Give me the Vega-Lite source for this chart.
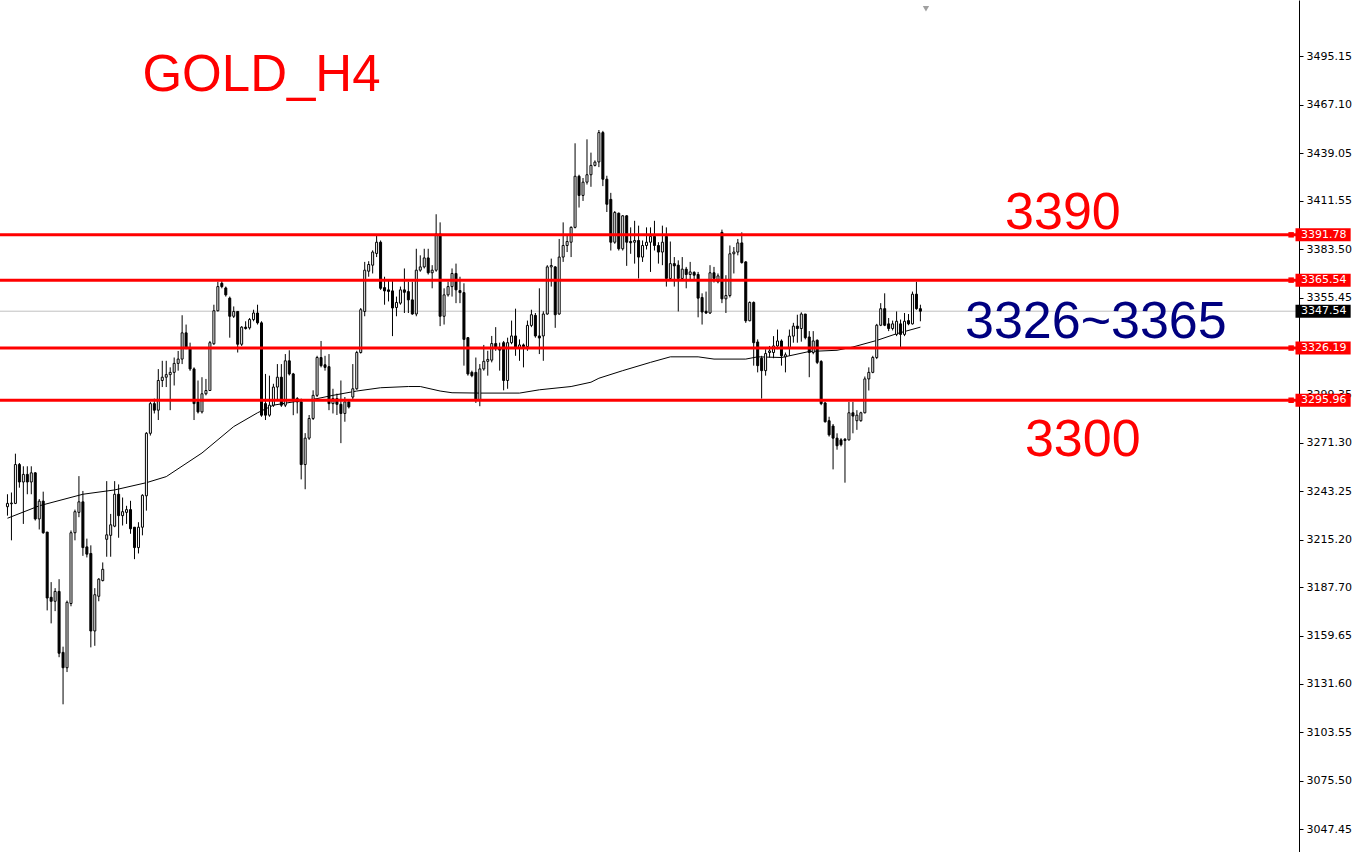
{
  "$schema": "https://vega.github.io/schema/vega-lite/v6.json",
  "width": 1299,
  "height": 852,
  "autosize": {"type": "none"},
  "padding": {"left": 0, "top": 0, "right": 57, "bottom": 0},
  "background": "#FFFFFF",
  "config": {"view": {"stroke": null}},
  "resolve": {"axis": {"y": "independent", "x": "independent"}},
  "datasets": {
    "candles": [
      {"k":0,"o":3234.3,"h":3241.5,"l":3229.1,"c":3236.2},
      {"k":1,"o":3236.0,"h":3242.5,"l":3214.8,"c":3236.4},
      {"k":2,"o":3236.2,"h":3265.0,"l":3235.8,"c":3258.7},
      {"k":3,"o":3258.7,"h":3259.6,"l":3245.3,"c":3248.6},
      {"k":4,"o":3248.6,"h":3257.7,"l":3224.3,"c":3253.0},
      {"k":5,"o":3253.0,"h":3257.7,"l":3241.5,"c":3248.6},
      {"k":6,"o":3248.6,"h":3257.7,"l":3241.5,"c":3253.9},
      {"k":7,"o":3253.9,"h":3254.3,"l":3226.3,"c":3227.2},
      {"k":8,"o":3227.2,"h":3238.7,"l":3221.1,"c":3237.5},
      {"k":9,"o":3237.5,"h":3243.0,"l":3218.6,"c":3219.2},
      {"k":10,"o":3219.6,"h":3219.6,"l":3174.2,"c":3181.4},
      {"k":11,"o":3181.8,"h":3190.6,"l":3166.7,"c":3179.5},
      {"k":12,"o":3179.5,"h":3187.1,"l":3173.8,"c":3185.2},
      {"k":13,"o":3185.2,"h":3192.3,"l":3147.1,"c":3149.4},
      {"k":14,"o":3149.9,"h":3153.2,"l":3119.8,"c":3141.0},
      {"k":15,"o":3141.0,"h":3179.9,"l":3138.5,"c":3178.9},
      {"k":16,"o":3178.2,"h":3220.5,"l":3176.6,"c":3219.2},
      {"k":17,"o":3219.2,"h":3232.6,"l":3214.8,"c":3231.4},
      {"k":18,"o":3231.0,"h":3252.0,"l":3228.2,"c":3237.1},
      {"k":19,"o":3237.1,"h":3243.4,"l":3205.8,"c":3210.6},
      {"k":20,"o":3211.0,"h":3215.8,"l":3204.9,"c":3206.8},
      {"k":21,"o":3207.2,"h":3211.9,"l":3152.8,"c":3162.3},
      {"k":22,"o":3162.3,"h":3187.1,"l":3153.7,"c":3183.3},
      {"k":23,"o":3182.4,"h":3192.9,"l":3179.5,"c":3192.3},
      {"k":24,"o":3191.5,"h":3202.0,"l":3191.0,"c":3198.0},
      {"k":25,"o":3215.4,"h":3249.1,"l":3205.3,"c":3218.0},
      {"k":26,"o":3217.7,"h":3230.1,"l":3205.3,"c":3223.8},
      {"k":27,"o":3223.0,"h":3249.1,"l":3222.4,"c":3241.5},
      {"k":28,"o":3241.5,"h":3247.2,"l":3216.3,"c":3229.1},
      {"k":29,"o":3229.1,"h":3239.6,"l":3223.4,"c":3231.4},
      {"k":30,"o":3231.0,"h":3234.8,"l":3224.3,"c":3232.6},
      {"k":31,"o":3232.6,"h":3237.7,"l":3218.6,"c":3221.5},
      {"k":32,"o":3222.4,"h":3222.4,"l":3203.9,"c":3210.6},
      {"k":33,"o":3210.6,"h":3225.3,"l":3207.2,"c":3222.4},
      {"k":34,"o":3222.4,"h":3241.5,"l":3217.7,"c":3240.9},
      {"k":35,"o":3240.6,"h":3277.5,"l":3232.0,"c":3276.8},
      {"k":36,"o":3276.8,"h":3295.0,"l":3275.5,"c":3294.0},
      {"k":37,"o":3294.0,"h":3296.9,"l":3288.3,"c":3290.2},
      {"k":38,"o":3290.2,"h":3314.0,"l":3284.5,"c":3307.4},
      {"k":39,"o":3307.4,"h":3318.8,"l":3303.6,"c":3309.3},
      {"k":40,"o":3309.3,"h":3318.8,"l":3303.6,"c":3310.8},
      {"k":41,"o":3310.8,"h":3315.0,"l":3290.2,"c":3312.1},
      {"k":42,"o":3312.1,"h":3320.7,"l":3304.5,"c":3317.3},
      {"k":43,"o":3317.3,"h":3324.5,"l":3313.1,"c":3319.8},
      {"k":44,"o":3319.8,"h":3345.2,"l":3316.9,"c":3335.0},
      {"k":45,"o":3335.0,"h":3339.8,"l":3325.5,"c":3326.5},
      {"k":46,"o":3326.5,"h":3329.3,"l":3313.0,"c":3314.1},
      {"k":47,"o":3314.1,"h":3315.0,"l":3284.5,"c":3294.0},
      {"k":48,"o":3295.0,"h":3307.4,"l":3288.3,"c":3289.2},
      {"k":49,"o":3289.2,"h":3309.3,"l":3288.3,"c":3299.7},
      {"k":50,"o":3299.7,"h":3308.3,"l":3298.8,"c":3301.6},
      {"k":51,"o":3301.6,"h":3330.3,"l":3301.3,"c":3329.3},
      {"k":52,"o":3328.7,"h":3351.3,"l":3328.0,"c":3347.8},
      {"k":53,"o":3347.8,"h":3364.6,"l":3347.4,"c":3361.8},
      {"k":54,"o":3363.7,"h":3365.0,"l":3360.8,"c":3361.8},
      {"k":55,"o":3361.0,"h":3361.8,"l":3356.0,"c":3357.0},
      {"k":56,"o":3355.1,"h":3356.0,"l":3332.2,"c":3344.6},
      {"k":57,"o":3344.6,"h":3350.3,"l":3343.6,"c":3347.4},
      {"k":58,"o":3347.4,"h":3347.4,"l":3323.6,"c":3328.4},
      {"k":59,"o":3328.4,"h":3338.9,"l":3327.4,"c":3338.3},
      {"k":60,"o":3338.3,"h":3341.7,"l":3336.9,"c":3337.5},
      {"k":61,"o":3337.9,"h":3343.6,"l":3336.9,"c":3342.7},
      {"k":62,"o":3342.7,"h":3348.4,"l":3341.7,"c":3346.5},
      {"k":63,"o":3346.5,"h":3351.3,"l":3339.8,"c":3340.8},
      {"k":64,"o":3340.8,"h":3341.7,"l":3286.4,"c":3287.3},
      {"k":65,"o":3294.0,"h":3311.2,"l":3284.5,"c":3287.3},
      {"k":66,"o":3287.3,"h":3310.2,"l":3286.4,"c":3293.1},
      {"k":67,"o":3293.1,"h":3305.5,"l":3292.1,"c":3303.6},
      {"k":68,"o":3303.6,"h":3316.9,"l":3295.9,"c":3309.3},
      {"k":69,"o":3309.3,"h":3316.9,"l":3292.1,"c":3293.1},
      {"k":70,"o":3293.1,"h":3322.7,"l":3292.0,"c":3318.8},
      {"k":71,"o":3318.8,"h":3324.9,"l":3310.3,"c":3311.2},
      {"k":72,"o":3311.2,"h":3311.8,"l":3287.3,"c":3295.9},
      {"k":73,"o":3296.9,"h":3297.8,"l":3288.3,"c":3295.0},
      {"k":74,"o":3295.0,"h":3296.9,"l":3250.1,"c":3258.7},
      {"k":75,"o":3258.7,"h":3276.9,"l":3244.4,"c":3274.0},
      {"k":76,"o":3274.0,"h":3287.4,"l":3273.0,"c":3285.4},
      {"k":77,"o":3285.4,"h":3301.7,"l":3284.5,"c":3298.8},
      {"k":78,"o":3298.8,"h":3321.7,"l":3297.8,"c":3320.7},
      {"k":79,"o":3320.7,"h":3330.3,"l":3315.0,"c":3316.0},
      {"k":80,"o":3316.5,"h":3321.7,"l":3313.1,"c":3315.0},
      {"k":81,"o":3315.4,"h":3322.7,"l":3290.2,"c":3294.0},
      {"k":82,"o":3294.0,"h":3302.6,"l":3288.3,"c":3296.9},
      {"k":83,"o":3296.9,"h":3299.8,"l":3287.4,"c":3293.6},
      {"k":84,"o":3293.6,"h":3307.4,"l":3271.1,"c":3288.3},
      {"k":85,"o":3288.3,"h":3297.8,"l":3283.5,"c":3295.0},
      {"k":86,"o":3295.0,"h":3296.3,"l":3291.2,"c":3292.1},
      {"k":87,"o":3297.8,"h":3316.9,"l":3295.9,"c":3302.6},
      {"k":88,"o":3302.6,"h":3324.6,"l":3302.0,"c":3323.6},
      {"k":89,"o":3323.6,"h":3349.4,"l":3323.0,"c":3348.4},
      {"k":90,"o":3347.4,"h":3376.1,"l":3344.6,"c":3371.3},
      {"k":91,"o":3370.7,"h":3376.5,"l":3367.5,"c":3374.6},
      {"k":92,"o":3374.2,"h":3382.8,"l":3369.4,"c":3381.8},
      {"k":93,"o":3381.0,"h":3391.3,"l":3378.9,"c":3387.5},
      {"k":94,"o":3387.5,"h":3388.5,"l":3359.9,"c":3360.8},
      {"k":95,"o":3361.2,"h":3367.5,"l":3351.3,"c":3359.3},
      {"k":96,"o":3359.9,"h":3365.0,"l":3353.2,"c":3359.0},
      {"k":97,"o":3359.3,"h":3365.0,"l":3333.1,"c":3349.4},
      {"k":98,"o":3349.7,"h":3356.0,"l":3344.6,"c":3352.6},
      {"k":99,"o":3352.2,"h":3361.8,"l":3351.3,"c":3359.9},
      {"k":100,"o":3359.9,"h":3372.3,"l":3346.5,"c":3358.5},
      {"k":101,"o":3358.9,"h":3364.6,"l":3346.5,"c":3354.1},
      {"k":102,"o":3354.1,"h":3364.6,"l":3345.5,"c":3345.9},
      {"k":103,"o":3345.9,"h":3383.7,"l":3344.6,"c":3371.3},
      {"k":104,"o":3371.3,"h":3379.9,"l":3370.4,"c":3373.2},
      {"k":105,"o":3373.2,"h":3383.7,"l":3372.3,"c":3378.4},
      {"k":106,"o":3378.4,"h":3383.7,"l":3368.8,"c":3369.8},
      {"k":107,"o":3369.8,"h":3374.2,"l":3360.8,"c":3371.3},
      {"k":108,"o":3371.3,"h":3403.7,"l":3370.4,"c":3392.3},
      {"k":109,"o":3392.3,"h":3399.0,"l":3338.9,"c":3344.6},
      {"k":110,"o":3344.6,"h":3360.8,"l":3339.8,"c":3357.0},
      {"k":111,"o":3357.0,"h":3364.6,"l":3356.0,"c":3361.8},
      {"k":112,"o":3361.8,"h":3372.3,"l":3356.0,"c":3369.4},
      {"k":113,"o":3369.4,"h":3375.1,"l":3352.2,"c":3359.9},
      {"k":114,"o":3359.5,"h":3367.5,"l":3352.2,"c":3358.3},
      {"k":115,"o":3358.3,"h":3363.7,"l":3316.0,"c":3331.2},
      {"k":116,"o":3332.2,"h":3332.6,"l":3310.2,"c":3311.2},
      {"k":117,"o":3312.1,"h":3313.1,"l":3309.3,"c":3310.2},
      {"k":118,"o":3312.1,"h":3320.7,"l":3294.4,"c":3295.9},
      {"k":119,"o":3295.9,"h":3316.9,"l":3292.5,"c":3314.1},
      {"k":120,"o":3314.1,"h":3328.0,"l":3313.1,"c":3318.5},
      {"k":121,"o":3318.5,"h":3324.6,"l":3310.2,"c":3319.6},
      {"k":122,"o":3319.2,"h":3333.2,"l":3317.9,"c":3328.8},
      {"k":123,"o":3328.8,"h":3338.3,"l":3324.6,"c":3326.5},
      {"k":124,"o":3326.5,"h":3329.3,"l":3313.1,"c":3325.0},
      {"k":125,"o":3329.3,"h":3330.3,"l":3301.7,"c":3307.4},
      {"k":126,"o":3307.4,"h":3332.2,"l":3302.6,"c":3329.3},
      {"k":127,"o":3329.3,"h":3342.1,"l":3328.4,"c":3333.2},
      {"k":128,"o":3333.2,"h":3349.0,"l":3321.7,"c":3326.5},
      {"k":129,"o":3326.5,"h":3331.2,"l":3318.8,"c":3328.0},
      {"k":130,"o":3328.0,"h":3328.8,"l":3315.0,"c":3327.0},
      {"k":131,"o":3327.0,"h":3342.1,"l":3324.6,"c":3339.3},
      {"k":132,"o":3339.3,"h":3348.4,"l":3338.3,"c":3345.5},
      {"k":133,"o":3345.1,"h":3346.5,"l":3332.2,"c":3333.2},
      {"k":134,"o":3333.2,"h":3360.8,"l":3322.7,"c":3332.0},
      {"k":135,"o":3333.2,"h":3347.5,"l":3318.8,"c":3345.9},
      {"k":136,"o":3345.9,"h":3374.2,"l":3345.5,"c":3373.2},
      {"k":137,"o":3373.2,"h":3378.0,"l":3361.8,"c":3374.0},
      {"k":138,"o":3373.2,"h":3373.6,"l":3337.9,"c":3345.5},
      {"k":139,"o":3345.9,"h":3389.4,"l":3345.5,"c":3378.9},
      {"k":140,"o":3378.9,"h":3399.0,"l":3376.1,"c":3385.6},
      {"k":141,"o":3385.6,"h":3391.3,"l":3381.8,"c":3387.9},
      {"k":142,"o":3387.5,"h":3396.7,"l":3378.9,"c":3396.1},
      {"k":143,"o":3396.1,"h":3444.8,"l":3395.5,"c":3425.7},
      {"k":144,"o":3425.7,"h":3426.6,"l":3407.6,"c":3414.6},
      {"k":145,"o":3414.6,"h":3424.7,"l":3411.4,"c":3422.3},
      {"k":146,"o":3422.3,"h":3447.1,"l":3420.9,"c":3426.6},
      {"k":147,"o":3426.6,"h":3439.4,"l":3419.6,"c":3432.0},
      {"k":148,"o":3432.0,"h":3434.9,"l":3431.4,"c":3433.9},
      {"k":149,"o":3434.0,"h":3452.5,"l":3431.0,"c":3451.0},
      {"k":150,"o":3451.0,"h":3452.0,"l":3420.0,"c":3424.0},
      {"k":151,"o":3424.0,"h":3426.0,"l":3405.0,"c":3409.5},
      {"k":152,"o":3412.3,"h":3416.1,"l":3382.7,"c":3387.5},
      {"k":153,"o":3387.5,"h":3405.6,"l":3386.6,"c":3404.7},
      {"k":154,"o":3404.3,"h":3404.7,"l":3382.7,"c":3383.7},
      {"k":155,"o":3383.7,"h":3403.2,"l":3382.7,"c":3402.8},
      {"k":156,"o":3402.8,"h":3403.2,"l":3373.8,"c":3387.5},
      {"k":157,"o":3387.9,"h":3396.1,"l":3380.8,"c":3387.2},
      {"k":158,"o":3387.5,"h":3399.9,"l":3375.1,"c":3388.5},
      {"k":159,"o":3388.5,"h":3397.1,"l":3366.5,"c":3378.9},
      {"k":160,"o":3378.9,"h":3388.5,"l":3376.1,"c":3385.6},
      {"k":161,"o":3385.6,"h":3396.1,"l":3383.3,"c":3387.5},
      {"k":162,"o":3387.5,"h":3396.1,"l":3370.3,"c":3390.9},
      {"k":163,"o":3390.9,"h":3399.9,"l":3382.7,"c":3385.6},
      {"k":164,"o":3385.6,"h":3387.5,"l":3375.1,"c":3381.8},
      {"k":165,"o":3381.8,"h":3397.1,"l":3374.2,"c":3387.5},
      {"k":166,"o":3390.9,"h":3396.1,"l":3361.8,"c":3366.5},
      {"k":167,"o":3366.5,"h":3387.9,"l":3365.6,"c":3375.1},
      {"k":168,"o":3375.1,"h":3378.9,"l":3361.8,"c":3373.8},
      {"k":169,"o":3374.2,"h":3377.0,"l":3347.4,"c":3366.5},
      {"k":170,"o":3366.5,"h":3378.9,"l":3365.6,"c":3371.9},
      {"k":171,"o":3371.9,"h":3373.2,"l":3360.8,"c":3368.8},
      {"k":172,"o":3368.8,"h":3376.1,"l":3365.6,"c":3370.3},
      {"k":173,"o":3370.0,"h":3370.7,"l":3365.6,"c":3368.4},
      {"k":174,"o":3368.8,"h":3370.3,"l":3344.0,"c":3355.1},
      {"k":175,"o":3355.5,"h":3357.9,"l":3339.8,"c":3347.1},
      {"k":176,"o":3347.5,"h":3358.9,"l":3345.9,"c":3346.5},
      {"k":177,"o":3346.5,"h":3374.2,"l":3345.9,"c":3369.8},
      {"k":178,"o":3369.8,"h":3373.2,"l":3364.2,"c":3366.5},
      {"k":179,"o":3364.6,"h":3369.4,"l":3363.7,"c":3368.0},
      {"k":180,"o":3393.2,"h":3394.8,"l":3352.2,"c":3354.7},
      {"k":181,"o":3354.7,"h":3368.4,"l":3346.5,"c":3356.6},
      {"k":182,"o":3356.6,"h":3385.6,"l":3355.5,"c":3380.8},
      {"k":183,"o":3380.8,"h":3384.7,"l":3369.4,"c":3381.8},
      {"k":184,"o":3381.8,"h":3389.4,"l":3379.9,"c":3387.1},
      {"k":185,"o":3387.1,"h":3393.2,"l":3375.1,"c":3375.7},
      {"k":186,"o":3376.1,"h":3376.5,"l":3340.8,"c":3342.0},
      {"k":187,"o":3342.0,"h":3353.2,"l":3341.7,"c":3352.6},
      {"k":188,"o":3352.6,"h":3353.2,"l":3316.0,"c":3329.3},
      {"k":189,"o":3329.7,"h":3331.2,"l":3312.1,"c":3316.0},
      {"k":190,"o":3320.3,"h":3321.7,"l":3296.9,"c":3313.1},
      {"k":191,"o":3313.1,"h":3325.5,"l":3310.2,"c":3323.0},
      {"k":192,"o":3323.6,"h":3327.4,"l":3320.7,"c":3324.5},
      {"k":193,"o":3323.6,"h":3333.1,"l":3320.3,"c":3327.4},
      {"k":194,"o":3327.4,"h":3336.9,"l":3325.5,"c":3330.3},
      {"k":195,"o":3330.3,"h":3331.2,"l":3316.0,"c":3321.7},
      {"k":196,"o":3321.1,"h":3323.6,"l":3312.1,"c":3322.3},
      {"k":197,"o":3326.4,"h":3336.9,"l":3321.7,"c":3333.1},
      {"k":198,"o":3333.1,"h":3340.8,"l":3329.3,"c":3338.9},
      {"k":199,"o":3338.9,"h":3345.5,"l":3329.3,"c":3337.5},
      {"k":200,"o":3337.5,"h":3346.9,"l":3329.9,"c":3345.9},
      {"k":201,"o":3345.9,"h":3345.9,"l":3331.2,"c":3332.2},
      {"k":202,"o":3332.6,"h":3336.0,"l":3309.3,"c":3323.6},
      {"k":203,"o":3323.6,"h":3336.0,"l":3322.6,"c":3330.3},
      {"k":204,"o":3330.7,"h":3331.2,"l":3316.9,"c":3317.9},
      {"k":205,"o":3318.4,"h":3319.2,"l":3293.1,"c":3294.0},
      {"k":206,"o":3294.4,"h":3295.0,"l":3283.0,"c":3283.5},
      {"k":207,"o":3284.1,"h":3286.4,"l":3274.9,"c":3275.9},
      {"k":208,"o":3281.0,"h":3282.2,"l":3255.9,"c":3274.0},
      {"k":209,"o":3274.0,"h":3276.8,"l":3267.3,"c":3269.6},
      {"k":210,"o":3273.0,"h":3274.0,"l":3269.2,"c":3270.2},
      {"k":211,"o":3273.4,"h":3274.0,"l":3248.2,"c":3272.6},
      {"k":212,"o":3273.0,"h":3295.0,"l":3272.6,"c":3288.7},
      {"k":213,"o":3288.7,"h":3295.0,"l":3276.8,"c":3286.8},
      {"k":214,"o":3284.1,"h":3290.2,"l":3278.8,"c":3287.3},
      {"k":215,"o":3284.1,"h":3289.3,"l":3283.5,"c":3288.7},
      {"k":216,"o":3288.7,"h":3309.7,"l":3288.3,"c":3308.3},
      {"k":217,"o":3308.3,"h":3315.0,"l":3301.6,"c":3312.1},
      {"k":218,"o":3312.1,"h":3321.7,"l":3311.6,"c":3320.7},
      {"k":219,"o":3320.7,"h":3340.2,"l":3319.8,"c":3339.4},
      {"k":220,"o":3339.4,"h":3352.2,"l":3338.9,"c":3349.0},
      {"k":221,"o":3349.0,"h":3357.9,"l":3338.9,"c":3339.4},
      {"k":222,"o":3340.2,"h":3343.6,"l":3336.0,"c":3337.5},
      {"k":223,"o":3337.5,"h":3342.1,"l":3336.4,"c":3340.2},
      {"k":224,"o":3334.1,"h":3347.4,"l":3333.1,"c":3341.7},
      {"k":225,"o":3340.2,"h":3342.7,"l":3326.8,"c":3334.1},
      {"k":226,"o":3334.1,"h":3346.5,"l":3333.1,"c":3341.7},
      {"k":227,"o":3342.1,"h":3345.9,"l":3339.4,"c":3340.2},
      {"k":228,"o":3340.2,"h":3358.9,"l":3339.8,"c":3357.4},
      {"k":229,"o":3357.4,"h":3364.6,"l":3348.4,"c":3349.0},
      {"k":230,"o":3349.0,"h":3351.3,"l":3341.7,"c":3347.54}
    ],
    "ma": [
      {"k":0,"v":3227.6},{"k":8,"v":3234.8},{"k":19,"v":3241.5},{"k":27,"v":3244.0},
      {"k":35,"v":3248.2},{"k":40,"v":3251.7},{"k":49,"v":3265.4},{"k":57,"v":3280.7},
      {"k":63,"v":3288.7},{"k":67,"v":3293.1},{"k":72,"v":3295.0},{"k":78,"v":3296.9},
      {"k":82,"v":3298.8},{"k":88,"v":3301.3},{"k":94,"v":3303.2},{"k":101,"v":3303.9},
      {"k":104,"v":3303.9},{"k":109,"v":3301.3},{"k":112,"v":3300.3},{"k":119,"v":3300.1},
      {"k":129,"v":3300.1},{"k":134,"v":3302.0},{"k":142,"v":3303.9},{"k":147,"v":3306.4},
      {"k":149,"v":3308.7},{"k":155,"v":3313.1},{"k":162,"v":3317.9},{"k":167,"v":3321.1},
      {"k":174,"v":3321.1},{"k":178,"v":3319.8},{"k":186,"v":3319.8},{"k":189,"v":3321.1},
      {"k":195,"v":3320.7},{"k":202,"v":3324.2},{"k":209,"v":3324.9},{"k":213,"v":3326.8},
      {"k":219,"v":3330.6},{"k":224,"v":3334.5},{"k":230,"v":3338.3}
    ],
    "levels": [
      {"price":3391.78,"label":"3391.78"},
      {"price":3365.54,"label":"3365.54"},
      {"price":3326.19,"label":"3326.19"},
      {"price":3295.96,"label":"3295.96"}
    ],
    "last": [
      {"price":3347.54,"label":"3347.54"}
    ],
    "notes": [
      {"text":"3390","kx":265.9,"py":3395.1,"color":"#FF0000"},
      {"text":"3326~3365","kx":274.2,"py":3332.2,"color":"#000080"},
      {"text":"3300","kx":270.9,"py":3263.9,"color":"#FF0000"}
    ]
  },
  "layer": [
    {
      "data": {"name": "last"},
      "mark": {"type": "rule", "color": "#C0C0C0", "strokeWidth": 1},
      "encoding": {
        "y": {"field": "price", "type": "quantitative",
          "scale": {"domain": [3037.15, 3524.92], "nice": false, "zero": false},
          "axis": {"orient": "right", "values": [3495.15,3467.10,3439.05,3411.55,3383.50,3355.45,3299.35,3271.30,3243.25,3215.20,3187.70,3159.65,3131.60,3103.55,3075.50,3047.45],
            "format": ".2f", "labelFont": "DejaVu Sans", "labelFontSize": 11, "labelColor": "#000000",
            "tickColor": "#000000", "tickSize": 4, "tickWidth": 1, "domainColor": "#000000", "domainWidth": 1,
            "labelPadding": 3, "grid": false, "title": null, "labelOverlap": false, "labelBound": false, "labelFlush": false}}
      }
    },
    {
      "data": {"name": "ma"},
      "mark": {"type": "line", "color": "#000000", "strokeWidth": 1},
      "encoding": {
        "x": {"field": "k", "type": "quantitative", "scale": {"domain": [-0.625, 324.125], "nice": false, "zero": false}, "axis": null},
        "y": {"field": "v", "type": "quantitative", "scale": {"domain": [3037.15, 3524.92], "nice": false, "zero": false}, "axis": null}
      }
    },
    {
      "data": {"name": "candles"},
      "mark": {"type": "rule", "color": "#000000", "strokeWidth": 1},
      "encoding": {
        "x": {"field": "k", "type": "quantitative", "scale": {"domain": [-0.625, 324.125], "nice": false, "zero": false}, "axis": null},
        "y": {"field": "l", "type": "quantitative", "scale": {"domain": [3037.15, 3524.92], "nice": false, "zero": false}, "axis": null},
        "y2": {"field": "h"}
      }
    },
    {
      "data": {"name": "candles"},
      "mark": {"type": "bar", "width": 2, "stroke": "#000000", "strokeWidth": 1},
      "encoding": {
        "x": {"field": "k", "type": "quantitative", "scale": {"domain": [-0.625, 324.125], "nice": false, "zero": false}, "axis": null},
        "y": {"field": "o", "type": "quantitative", "scale": {"domain": [3037.15, 3524.92], "nice": false, "zero": false}, "axis": null},
        "y2": {"field": "c"},
        "fill": {"condition": {"test": "datum.c >= datum.o", "value": "#FFFFFF"}, "value": "#000000"}
      }
    },
    {
      "data": {"name": "levels"},
      "mark": {"type": "rule", "color": "#FF0000", "strokeWidth": 3},
      "encoding": {
        "y": {"field": "price", "type": "quantitative", "scale": {"domain": [3037.15, 3524.92], "nice": false, "zero": false}, "axis": null}
      }
    },
    {
      "data": {"name": "levels"},
      "mark": {"type": "point", "shape": "square", "filled": true, "color": "#FF0000", "size": 30, "opacity": 1},
      "encoding": {
        "x": {"datum": 323.4, "type": "quantitative", "scale": {"domain": [-0.625, 324.125], "nice": false, "zero": false}, "axis": null},
        "y": {"field": "price", "type": "quantitative", "scale": {"domain": [3037.15, 3524.92], "nice": false, "zero": false}, "axis": null}
      }
    },
    {
      "data": {"name": "levels"},
      "mark": {"type": "bar", "height": 13, "color": "#FF0000"},
      "encoding": {
        "x": {"datum": 324.5, "type": "quantitative", "scale": {"domain": [-0.625, 324.125], "nice": false, "zero": false}, "axis": null},
        "x2": {"datum": 338.4},
        "y": {"field": "price", "type": "quantitative", "scale": {"domain": [3037.15, 3524.92], "nice": false, "zero": false}, "axis": null}
      }
    },
    {
      "data": {"name": "last"},
      "mark": {"type": "bar", "height": 13, "color": "#000000"},
      "encoding": {
        "x": {"datum": 324.5, "type": "quantitative", "scale": {"domain": [-0.625, 324.125], "nice": false, "zero": false}, "axis": null},
        "x2": {"datum": 338.4},
        "y": {"field": "price", "type": "quantitative", "scale": {"domain": [3037.15, 3524.92], "nice": false, "zero": false}, "axis": null}
      }
    },
    {
      "data": {"name": "levels"},
      "mark": {"type": "text", "align": "left", "baseline": "middle", "font": "DejaVu Sans", "fontSize": 11, "color": "#FFFFFF"},
      "encoding": {
        "x": {"datum": 325.9, "type": "quantitative", "scale": {"domain": [-0.625, 324.125], "nice": false, "zero": false}, "axis": null},
        "y": {"field": "price", "type": "quantitative", "scale": {"domain": [3037.15, 3524.92], "nice": false, "zero": false}, "axis": null},
        "text": {"field": "label"}
      }
    },
    {
      "data": {"name": "last"},
      "mark": {"type": "text", "align": "left", "baseline": "middle", "font": "DejaVu Sans", "fontSize": 11, "color": "#FFFFFF"},
      "encoding": {
        "x": {"datum": 325.9, "type": "quantitative", "scale": {"domain": [-0.625, 324.125], "nice": false, "zero": false}, "axis": null},
        "y": {"field": "price", "type": "quantitative", "scale": {"domain": [3037.15, 3524.92], "nice": false, "zero": false}, "axis": null},
        "text": {"field": "label"}
      }
    },
    {
      "data": {"name": "notes"},
      "mark": {"type": "text", "align": "center", "baseline": "alphabetic", "font": "Liberation Sans", "fontSize": 52},
      "encoding": {
        "x": {"field": "kx", "type": "quantitative", "scale": {"domain": [-0.625, 324.125], "nice": false, "zero": false}, "axis": null},
        "y": {"field": "py", "type": "quantitative", "scale": {"domain": [3037.15, 3524.92], "nice": false, "zero": false}, "axis": null},
        "text": {"field": "text"},
        "color": {"field": "color", "type": "nominal", "scale": null}
      }
    },
    {
      "data": {"values": [{"t": "GOLD_H4"}]},
      "mark": {"type": "text", "align": "left", "baseline": "alphabetic", "font": "Liberation Sans", "fontSize": 51, "color": "#FF0000"},
      "encoding": {
        "x": {"datum": 34.0, "type": "quantitative", "scale": {"domain": [-0.625, 324.125], "nice": false, "zero": false}, "axis": null},
        "y": {"datum": 3475.3, "type": "quantitative", "scale": {"domain": [3037.15, 3524.92], "nice": false, "zero": false}, "axis": null},
        "text": {"field": "t"}
      }
    },
    {
      "data": {"values": [{"m": "shift"}]},
      "mark": {"type": "point", "shape": "triangle-down", "filled": true, "color": "#A0A0A0", "size": 40, "opacity": 1},
      "encoding": {
        "x": {"datum": 231.4, "type": "quantitative", "scale": {"domain": [-0.625, 324.125], "nice": false, "zero": false}, "axis": null},
        "y": {"datum": 3522.8, "type": "quantitative", "scale": {"domain": [3037.15, 3524.92], "nice": false, "zero": false}, "axis": null}
      }
    }
  ]
}
